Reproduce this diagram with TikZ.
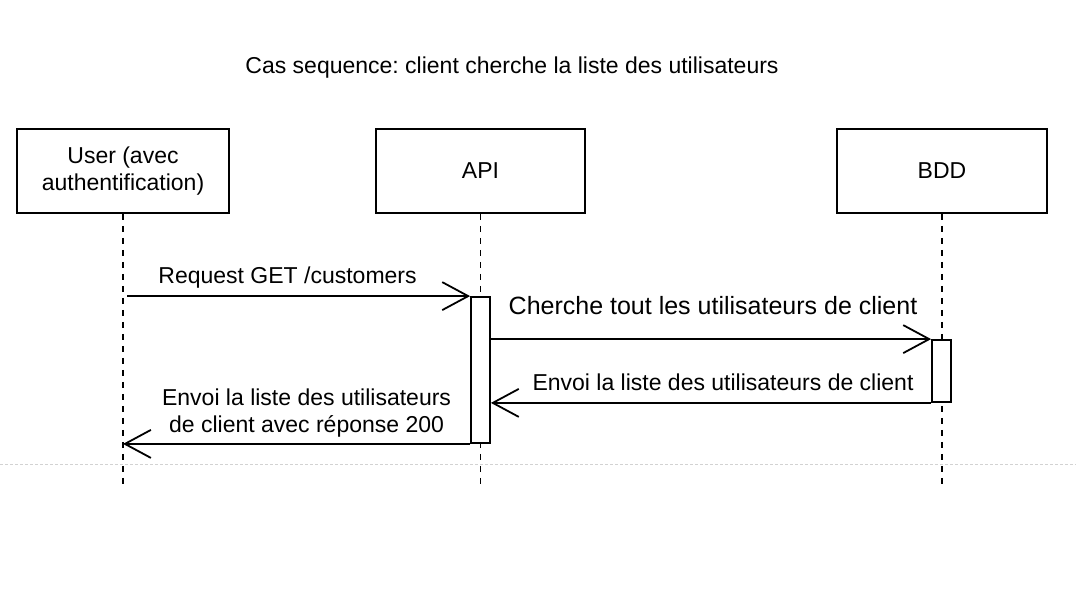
\documentclass[tikz,border=0pt]{standalone}
\usepackage{fontspec}
\setmainfont{Liberation Sans}
\usetikzlibrary{arrows.meta}
\frenchspacing

\begin{document}
\begin{tikzpicture}
   [x=1pt,y=-1pt,line width=1.8pt,
    font=\fontsize{23}{27}\selectfont,
    actor/.style={draw,fill=white,inner sep=0pt,minimum height=84pt,align=center},
    activation/.style={draw,fill=white,inner sep=0pt,minimum width=19pt},
    lifeline/.style={dash pattern=on 6pt off 6pt},
    msg/.style={-{Straight Barb[length=26pt,width=28pt]}},
    lbl/.style={inner sep=0pt,anchor=base}]
   \fill[white] (0,0) rectangle (1076,602);
   \useasboundingbox (0,0) rectangle (1076,602);

   \node (title) at (512,68) {Cas sequence: client cherche la liste des utilisateurs};

   % participants
   \node[actor,minimum width=212pt] (user) at (123,171) {User (avec\\authentification)};
   \node[actor,minimum width=209pt] (api) at (480.5,171) {API};
   \node[actor,minimum width=210pt] (bdd) at (942,171) {BDD};
   \coordinate (bottom) at (0,485);

   \draw[gray!35,line width=0.8pt,dash pattern=on 3pt off 2pt] (0,464) -- (1076,464);

   \begin{scope}[lifeline]
      \draw (user.south) -- (user.south |- bottom);
      \draw (api.south) -- (api.south |- bottom);
      \draw (bdd.south) -- (bdd.south |- bottom);
   \end{scope}

   \node[activation,minimum height=146pt] (apiact) at (480.5,370) {};
   \node[activation,minimum height=62pt] (bddact) at (941.5,371) {};

   % messages
   \draw[msg] (user.south |- apiact.north west) ++(4,0) coordinate (req)
      -- node[lbl,xshift=-11pt,yshift=13pt] {Request GET /customers} (apiact.north west);
   \draw[msg] (apiact.east |- bddact.north west)
      -- node[lbl,xshift=2pt,yshift=25pt,font=\fontsize{25}{29}\selectfont] {Cherche tout les utilisateurs de client} (bddact.north west);
   \draw[msg] (bddact.south west)
      -- node[lbl,xshift=12pt,yshift=12pt] {Envoi la liste des utilisateurs de client} (apiact.east |- bddact.south west);
   \draw[msg] (apiact.south west)
      -- node[lbl,anchor=south,align=center,xshift=10pt,yshift=6pt] {Envoi la liste des utilisateurs\\de client avec réponse 200} (user.south |- apiact.south west);
\end{tikzpicture}
\end{document}
